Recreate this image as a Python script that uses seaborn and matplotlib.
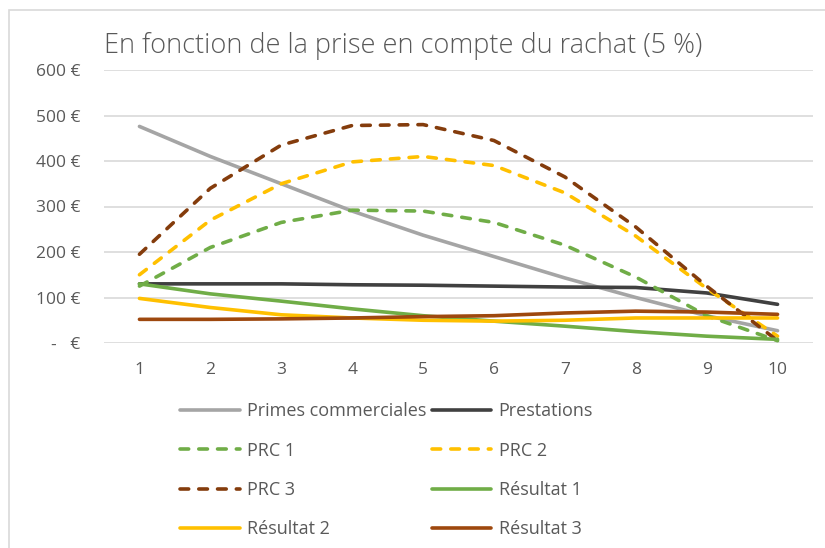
import numpy as np
import pandas as pd
import matplotlib
matplotlib.use("Agg")
import matplotlib.pyplot as plt
import seaborn as sns
from matplotlib.patches import Rectangle

# Years 1..10
annees = [1, 2, 3, 4, 5, 6, 7, 8, 9, 10]

primes = [476, 410, 350, 290, 237, 190, 143, 100, 60, 27]
prestations = [130, 130, 130, 128, 127, 125, 123, 122, 110, 85]
prc1 = [125, 210, 265, 292, 290, 265, 215, 145, 60, 5]
prc2 = [150, 270, 350, 398, 410, 390, 330, 235, 120, 15]
prc3 = [195, 340, 435, 478, 480, 445, 365, 255, 125, 5]
res1 = [130, 108, 92, 75, 60, 48, 37, 25, 15, 8]
res2 = [98, 78, 62, 55, 50, 48, 50, 55, 55, 55]
res3 = [52, 52, 53, 55, 58, 60, 66, 70, 68, 63]

y_ticks = [0, 100, 200, 300, 400, 500, 600]
y_labels = ["-   €", "100 €", "200 €", "300 €", "400 €", "500 €", "600 €"]

series = {
    "Primes commerciales": (primes, "#A5A5A5", "-"),
    "Prestations": (prestations, "#404040", "-"),
    "PRC 1": (prc1, "#70AD47", "--"),
    "PRC 2": (prc2, "#FFC000", "--"),
    "PRC 3": (prc3, "#843C0C", "--"),
    "Résultat 1": (res1, "#70AD47", "-"),
    "Résultat 2": (res2, "#FFC000", "-"),
    "Résultat 3": (res3, "#9E480E", "-"),
}

sns.set_style("white")
plt.rcParams["font.family"] = ["Open Sans", "DejaVu Sans"]

fig = plt.figure(figsize=(8.25, 5.48), dpi=100)
ax = fig.add_axes([104 / 825, 1 - 343 / 548, (813 - 104) / 825, (343 - 70) / 548])

handles = {}
for name, (vals, col, ls) in series.items():
    df = pd.DataFrame({"x": annees, "y": vals})
    sns.lineplot(data=df, x="x", y="y", ax=ax, color=col, linewidth=2.6,
                 linestyle=ls, label=name, solid_capstyle="round",
                 dash_capstyle="round")
    handles[name] = ax.get_lines()[-1]
    if ls == "--":
        handles[name].set_dashes((2.4, 2.8))

ax.set_xlim(0.5, 10.5)
ax.set_ylim(0, 600)
ax.set_yticks(y_ticks)
ax.set_yticklabels(y_labels)
ax.set_xticks(annees)
ax.set_xlabel("")
ax.set_ylabel("")
ax.yaxis.grid(True, color="#D9D9D9", linewidth=1.2)
ax.set_axisbelow(True)
for s in ax.spines.values():
    s.set_visible(False)
ax.tick_params(axis="both", length=0, labelsize=12.5, colors="#595959")
ax.tick_params(axis="y", pad=17)
ax.tick_params(axis="x", pad=14)

ax.get_legend().remove()
order = ["Primes commerciales", "PRC 1", "PRC 3", "Résultat 2",
         "Prestations", "PRC 2", "Résultat 1", "Résultat 3"]
fig.legend([handles[n] for n in order], order, ncol=2, frameon=False,
           loc="upper left", bbox_to_anchor=(164 / 825, 1 - 386 / 548),
           handlelength=3.3, handletextpad=0.4, columnspacing=0.3,
           labelspacing=1.18, fontsize=13, labelcolor="#595959")

fig.text(104 / 825, 1 - 46 / 548, "En fonction de la prise en compte du rachat (5 %)",
         fontsize=19.5, fontweight="light", color="#595959", va="center", ha="left")

fig.patches.append(Rectangle((9 / 825, -0.01), 1.0, 1 - 10 / 548 + 0.01,
                             transform=fig.transFigure, fill=False,
                             edgecolor="#D9D9D9", linewidth=1.2))

fig.savefig("out.png", dpi=100)
